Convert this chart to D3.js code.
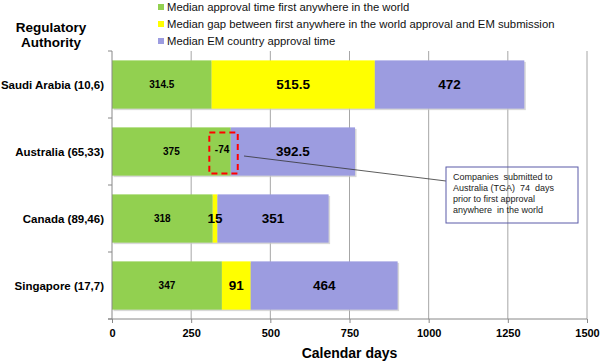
<!DOCTYPE html>
<html>
<head>
<meta charset="utf-8">
<script src="https://cdn.jsdelivr.net/npm/d3@7"></script>
<style>
  body { margin: 0; background: #fff; }
  svg { font-family: "Liberation Sans", Arial, sans-serif; }
</style>
</head>
<body>
<div id="chart"></div>
<script>
const authorities = ["Saudi Arabia (10,6)", "Australia (65,33)", "Canada (89,46)", "Singapore (17,7)"];
const firstApproval = [314.5, 375, 318, 347];
const gapToSubmission = [515.5, -74, 15, 91];
const emApproval = [472, 392.5, 351, 464];
const xTicks = [0, 250, 500, 750, 1000, 1250, 1500];
const seriesNames = [
  "Median approval time first anywhere in the world",
  "Median gap between first anywhere in the world approval and EM submission",
  "Median EM country approval time"
];
const seriesColors = ["#92d050", "#ffff00", "#9c9ce0"];
const calloutLines = ["Companies  submitted to", "Australia (TGA)  74  days", "prior to first approval", "anywhere  in the world"];

const width = 600, height = 362;
const margin = { top: 51, right: 13, bottom: 43, left: 112 };

const svg = d3.select("#chart").append("svg")
  .attr("width", width)
  .attr("height", height);

const x = d3.scaleLinear().domain([0, 1500]).range([margin.left, width - margin.right]);
const y = d3.scaleBand().domain(authorities).range([margin.top, height - margin.bottom]).paddingInner(0.28).paddingOuter(0.14);

// gridlines
svg.append("g")
  .selectAll("line")
  .data(xTicks.slice(1))
  .enter().append("line")
  .attr("x1", d => x(d)).attr("x2", d => x(d))
  .attr("y1", margin.top).attr("y2", height - margin.bottom)
  .attr("stroke", "#a6a6a6").attr("stroke-width", 1);

// stacked segments (the negative gap is only labelled, not stacked)
const segments = [];
authorities.forEach((a, i) => {
  const g = firstApproval[i], gap = gapToSubmission[i], em = emApproval[i];
  segments.push({ a, s: 0, x0: 0, x1: g, v: g });
  const gEnd = gap > 0 ? g + gap : g;
  if (gap > 0) segments.push({ a, s: 1, x0: g, x1: g + gap, v: gap });
  segments.push({ a, s: 2, x0: gEnd, x1: gEnd + em, v: em });
});

// shadow
svg.append("g").selectAll("rect")
  .data(authorities)
  .enter().append("rect")
  .attr("x", x(0) + 1.5)
  .attr("y", d => y(d) + 1.5)
  .attr("width", (d, i) => x(firstApproval[i] + Math.max(gapToSubmission[i], 0) + emApproval[i]) - x(0))
  .attr("height", y.bandwidth())
  .attr("fill", "#c8c8c8")
  .attr("opacity", 0.7);

svg.append("g").selectAll("rect")
  .data(segments)
  .enter().append("rect")
  .attr("x", d => x(d.x0))
  .attr("y", d => y(d.a))
  .attr("width", d => x(d.x1) - x(d.x0))
  .attr("height", y.bandwidth())
  .attr("fill", d => seriesColors[d.s]);

svg.append("g").selectAll("text")
  .data(segments)
  .enter().append("text")
  .attr("x", d => x((d.x0 + d.x1) / 2))
  .attr("y", d => y(d.a) + y.bandwidth() / 2)
  .attr("dy", "0.35em")
  .attr("text-anchor", "middle")
  .attr("font-weight", "bold")
  .attr("font-size", d => d.s === 0 ? "10px" : "13.5px")
  .attr("fill", "#000")
  .text(d => d.v);

// negative gap label for Australia
const ausIdx = 1;
const aus = authorities[ausIdx];
svg.append("text")
  .attr("x", x(firstApproval[ausIdx] + gapToSubmission[ausIdx] / 2) + 3)
  .attr("y", y(aus) + y.bandwidth() / 2 - 2)
  .attr("dy", "0.35em")
  .attr("text-anchor", "middle")
  .attr("font-weight", "bold")
  .attr("font-size", "10px")
  .text(gapToSubmission[ausIdx]);

svg.append("rect")
  .attr("x", x(firstApproval[ausIdx] + gapToSubmission[ausIdx]) + 2)
  .attr("y", y(aus) + 5)
  .attr("width", x(firstApproval[ausIdx]) - x(firstApproval[ausIdx] + gapToSubmission[ausIdx]) + 5)
  .attr("height", y.bandwidth() - 7)
  .attr("fill", "none")
  .attr("stroke", "#ff0000")
  .attr("stroke-width", 2)
  .attr("stroke-dasharray", "6,4");

// callout
svg.append("line")
  .attr("x1", 244).attr("y1", 156)
  .attr("x2", 446).attr("y2", 181)
  .attr("stroke", "#333").attr("stroke-width", 0.8);

svg.append("rect")
  .attr("x", 446).attr("y", 167)
  .attr("width", 132).attr("height", 56)
  .attr("fill", "none")
  .attr("stroke", "#5b5ba8").attr("stroke-width", 1);

svg.append("g").selectAll("text")
  .data(calloutLines)
  .enter().append("text")
  .attr("x", 453)
  .attr("y", (d, i) => 180 + i * 10.9)
  .attr("font-size", "9px")
  .attr("fill", "#222")
  .style("white-space", "pre")
  .text(d => d);

// y axis
const yAxis = svg.append("g")
  .attr("transform", `translate(${margin.left},0)`);
yAxis.append("line")
  .attr("x1", 0).attr("x2", 0)
  .attr("y1", margin.top).attr("y2", height - margin.bottom)
  .attr("stroke", "#888");
yAxis.selectAll("line.tick")
  .data(d3.range(authorities.length + 1))
  .enter().append("line")
  .attr("class", "tick")
  .attr("x1", -4).attr("x2", 0)
  .attr("y1", i => margin.top + i * y.step())
  .attr("y2", i => margin.top + i * y.step())
  .attr("stroke", "#888");
yAxis.selectAll("text")
  .data(authorities)
  .enter().append("text")
  .attr("x", -8)
  .attr("y", d => y(d) + y.bandwidth() / 2)
  .attr("dy", "0.35em")
  .attr("text-anchor", "end")
  .attr("font-weight", "bold")
  .attr("font-size", "11.5px")
  .text(d => d);

// x axis
const xAxis = svg.append("g")
  .attr("transform", `translate(0,${height - margin.bottom})`)
  .call(d3.axisBottom(x).tickValues(xTicks).tickSize(4).tickPadding(6).tickFormat(d3.format("d")));
xAxis.select(".domain").attr("stroke", "#888").attr("d", `M${x(0) - 4},0H${x(1500)}`);
xAxis.selectAll(".tick line").attr("stroke", "#888");
xAxis.selectAll("text")
  .attr("font-family", "Liberation Sans, Arial, sans-serif")
  .attr("font-size", "11px")
  .attr("font-weight", "bold")
  .attr("fill", "#000");

svg.append("text")
  .attr("x", x(750))
  .attr("y", 358)
  .attr("text-anchor", "middle")
  .attr("font-weight", "bold")
  .attr("font-size", "14px")
  .text("Calendar days");

// y title
svg.append("g").selectAll("text")
  .data(["Regulatory", "Authority"])
  .enter().append("text")
  .attr("x", 51)
  .attr("y", (d, i) => 32 + i * 15)
  .attr("text-anchor", "middle")
  .attr("font-weight", "bold")
  .attr("font-size", "13.5px")
  .text(d => d);

// legend
const legend = svg.append("g").selectAll("g")
  .data(seriesNames)
  .enter().append("g")
  .attr("transform", (d, i) => `translate(158,${7 + i * 17})`);
legend.append("rect")
  .attr("x", 0).attr("y", -3)
  .attr("width", 6).attr("height", 6)
  .attr("fill", (d, i) => seriesColors[i]);
legend.append("text")
  .attr("x", 9)
  .attr("y", 0)
  .attr("dy", "0.35em")
  .attr("font-size", "11.3px")
  .attr("fill", "#111")
  .text(d => d);
</script>
</body>
</html>
